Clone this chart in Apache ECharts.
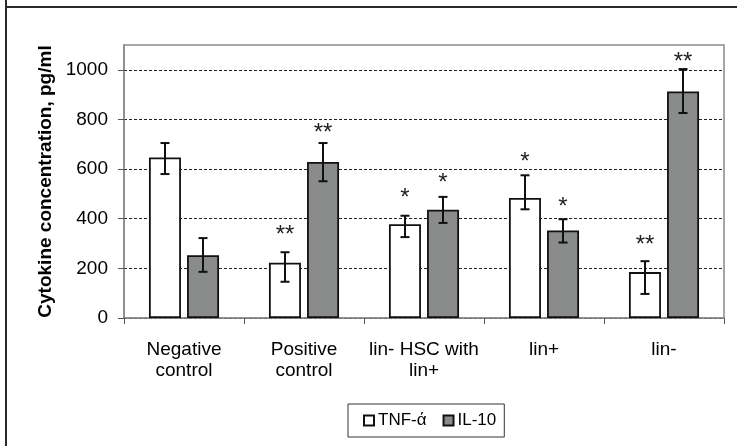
<!DOCTYPE html>
<html>
<head>
<meta charset="utf-8">
<script src="https://cdn.jsdelivr.net/npm/echarts@6/dist/echarts.min.js"></script>
<style>
html,body{margin:0;padding:0;background:#fff;}
#chart{width:737px;height:446px;}
</style>
</head>
<body>
<div id="chart"></div>
<script>
const categories = ['Negative\ncontrol', 'Positive\ncontrol', 'lin- HSC with\nlin+', 'lin+', 'lin-'];
const seriesNames = ['TNF-ά', 'IL-10'];
const tnf = [647, 223, 378, 484, 185];
const tnfLow = [580, 146, 326, 438, 97];
const tnfHigh = [705, 265, 412, 575, 229];
const il10 = [253, 629, 436, 353, 913];
const il10Low = [186, 551, 383, 304, 826];
const il10High = [322, 705, 488, 398, 1003];
const tnfStars = ['', '**', '*', '*', '**'];
const tnfStarY = [0, 354, 503, 648, 311];
const il10Stars = ['', '**', '*', '*', '**'];
const il10StarY = [0, 765, 563, 464, 1051];
const yTicks = [0, 200, 400, 600, 800, 1000];

const FONT = '"Liberation Sans", Arial, sans-serif';
const BAR_W = 32;
const BAR_OFF = 19;

function errData(low, high, starY, stars) {
  return categories.map((c, i) => [i, low[i], high[i], starY[i], stars[i]]);
}

const errSource = [
  errData(tnfLow, tnfHigh, tnfStarY, tnfStars),
  errData(il10Low, il10High, il10StarY, il10Stars)
];

function makeRender(offset, srcIdx) {
  return function (params, api) {
    const i = api.value(0);
    const lo = api.coord([i, api.value(1)]);
    const hi = api.coord([i, api.value(2)]);
    const x = lo[0] + offset;
    const cap = 4.5;
    const lineStyle = { stroke: '#111', lineWidth: 2 };
    const children = [
      { type: 'line', shape: { x1: x, y1: lo[1], x2: x, y2: hi[1] }, style: lineStyle },
      { type: 'line', shape: { x1: x - cap, y1: lo[1], x2: x + cap, y2: lo[1] }, style: lineStyle },
      { type: 'line', shape: { x1: x - cap, y1: hi[1], x2: x + cap, y2: hi[1] }, style: lineStyle }
    ];
    const starText = errSource[srcIdx][params.dataIndex][4];
    if (starText) {
      const sp = api.coord([i, api.value(3)]);
      children.push({
        type: 'text',
        style: {
          text: starText, x: x, y: sp[1] + 5,
          align: 'center', verticalAlign: 'middle',
          font: '24px ' + FONT, fill: '#222'
        }
      });
    }
    return { type: 'group', children: children };
  };
}

const chart = echarts.init(document.getElementById('chart'), null, { renderer: 'canvas' });
chart.setOption({
  animation: false,
  backgroundColor: '#fff',
  textStyle: { fontFamily: FONT },
  graphic: [
    { type: 'line', shape: { x1: 6, y1: 0, x2: 6, y2: 446 }, style: { stroke: '#2a2a2a', lineWidth: 2 } },
    { type: 'line', shape: { x1: 5, y1: 7, x2: 737, y2: 7 }, style: { stroke: '#2a2a2a', lineWidth: 2 } }
  ],
  grid: {
    left: 124, right: 13, top: 45, bottom: 128,
    show: true, borderColor: '#8a8a8a', borderWidth: 1.5, backgroundColor: 'transparent'
  },
  legend: {
    data: seriesNames,
    left: 348, top: 404,
    orient: 'horizontal',
    padding: [8, 8, 8, 15],
    itemWidth: 10, itemHeight: 10, itemGap: 16,
    borderColor: '#333', borderWidth: 1,
    icon: 'rect',
    textStyle: { fontSize: 17, color: '#000', fontFamily: FONT, padding: [0, 0, 0, -1] }
  },
  xAxis: {
    type: 'category',
    data: categories,
    axisLine: { lineStyle: { color: '#8a8a8a', width: 1.5 } },
    axisTick: { show: true, length: 6, lineStyle: { color: '#555', width: 1 } },
    axisLabel: { fontSize: 19, color: '#000', margin: 21, lineHeight: 21, fontFamily: FONT, interval: 0 }
  },
  yAxis: {
    type: 'value',
    min: 0, max: 1100, interval: 200,
    name: 'Cytokine concentration, pg/ml',
    nameLocation: 'middle',
    nameGap: 57,
    nameTextStyle: { fontSize: 19, fontWeight: 'bold', color: '#000', fontFamily: FONT },
    axisLine: { show: true, lineStyle: { color: '#8a8a8a', width: 1.5 } },
    axisTick: { show: true, length: 6, lineStyle: { color: '#555' }, customValues: yTicks },
    axisLabel: { fontSize: 19, color: '#000', margin: 16, fontFamily: FONT, customValues: yTicks,
      formatter: function (v) { return String(v); } },
    splitLine: { show: true, lineStyle: { color: '#222', type: [3, 2], width: 1 } }
  },
  series: [
    {
      name: seriesNames[0], type: 'bar', data: tnf, barWidth: BAR_W, barGap: '19%',
      itemStyle: { color: '#ffffff', borderColor: '#111', borderWidth: 1.8 }
    },
    {
      name: seriesNames[1], type: 'bar', data: il10, barWidth: BAR_W, barGap: '19%',
      itemStyle: { color: '#8a8c8c', borderColor: '#111', borderWidth: 1.8 }
    },
    {
      type: 'custom', renderItem: makeRender(-BAR_OFF, 0), data: errSource[0],
      encode: { x: 0, y: [1, 2] }, z: 5, silent: true
    },
    {
      type: 'custom', renderItem: makeRender(BAR_OFF, 1), data: errSource[1],
      encode: { x: 0, y: [1, 2] }, z: 5, silent: true
    }
  ]
});
</script>
</body>
</html>
